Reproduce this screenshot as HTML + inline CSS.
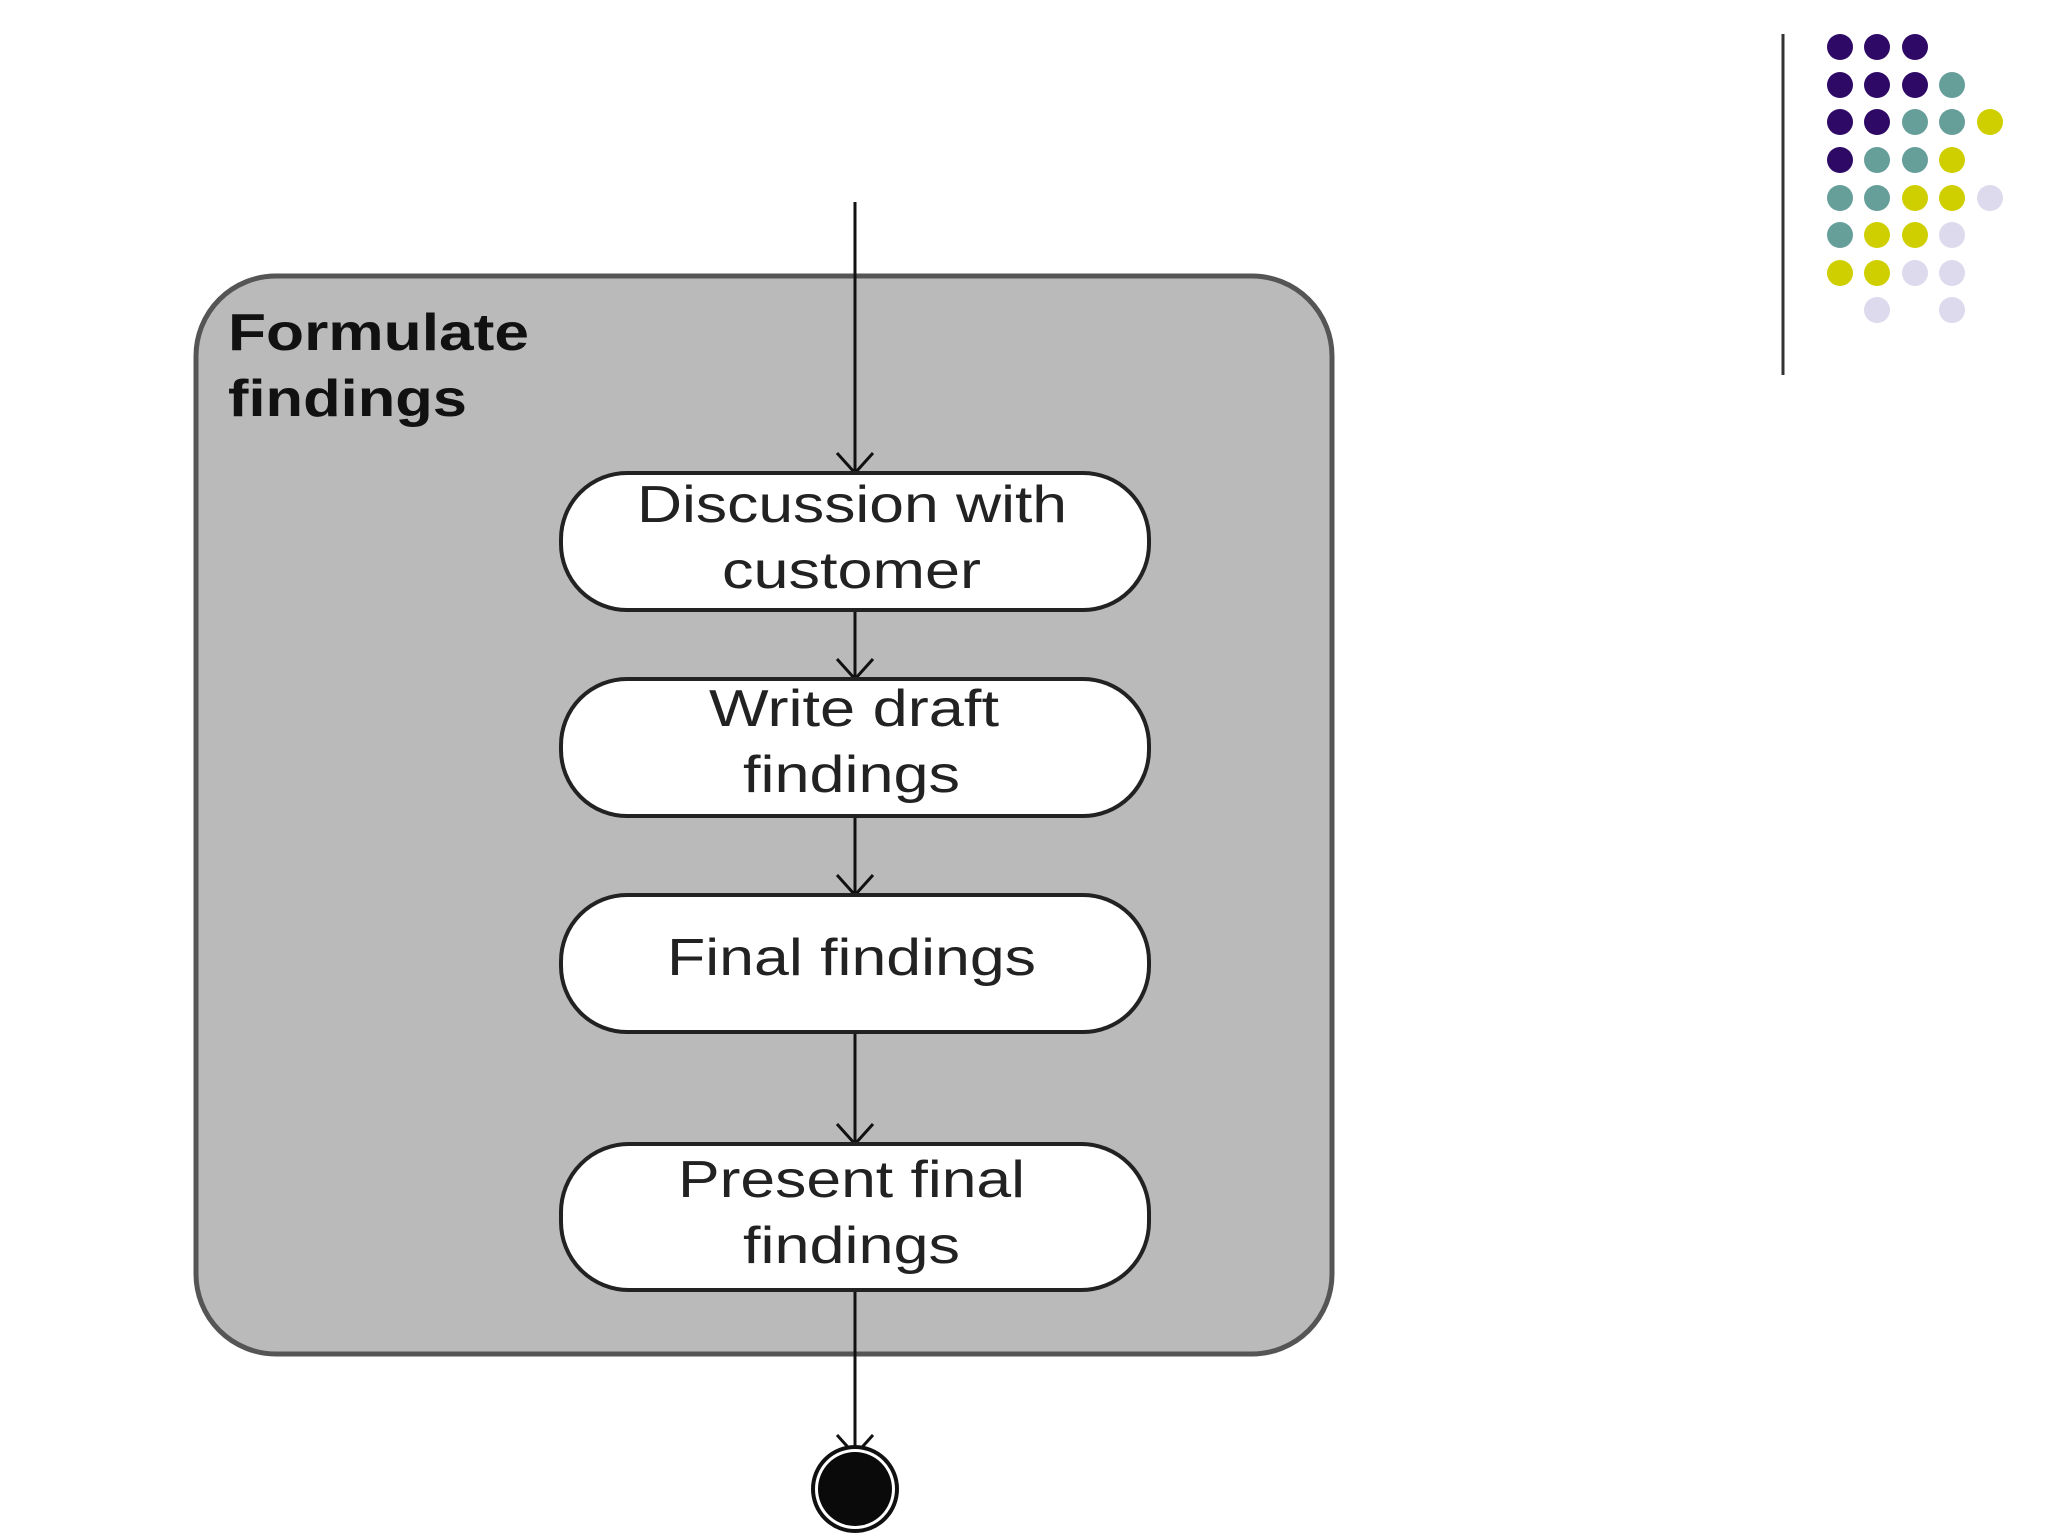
<!DOCTYPE html>
<html><head><style>body{margin:0;background:#fff}svg{display:block}</style></head>
<body>
<svg width="2048" height="1536" viewBox="0 0 2048 1536" xmlns="http://www.w3.org/2000/svg">
<line x1="1783" y1="34" x2="1783" y2="375" stroke="#333" stroke-width="3"/>
<g>
<circle cx="1840" cy="47" r="13" fill="#2e0a66"/><circle cx="1877" cy="47" r="13" fill="#2e0a66"/><circle cx="1915" cy="47" r="13" fill="#2e0a66"/>
<circle cx="1840" cy="85" r="13" fill="#2e0a66"/><circle cx="1877" cy="85" r="13" fill="#2e0a66"/><circle cx="1915" cy="85" r="13" fill="#2e0a66"/><circle cx="1952" cy="85" r="13" fill="#669e9a"/>
<circle cx="1840" cy="122" r="13" fill="#2e0a66"/><circle cx="1877" cy="122" r="13" fill="#2e0a66"/><circle cx="1915" cy="122" r="13" fill="#669e9a"/><circle cx="1952" cy="122" r="13" fill="#669e9a"/><circle cx="1990" cy="122" r="13" fill="#cfcf00"/>
<circle cx="1840" cy="160" r="13" fill="#2e0a66"/><circle cx="1877" cy="160" r="13" fill="#669e9a"/><circle cx="1915" cy="160" r="13" fill="#669e9a"/><circle cx="1952" cy="160" r="13" fill="#cfcf00"/>
<circle cx="1840" cy="198" r="13" fill="#669e9a"/><circle cx="1877" cy="198" r="13" fill="#669e9a"/><circle cx="1915" cy="198" r="13" fill="#cfcf00"/><circle cx="1952" cy="198" r="13" fill="#cfcf00"/><circle cx="1990" cy="198" r="13" fill="#dcdaec"/>
<circle cx="1840" cy="235" r="13" fill="#669e9a"/><circle cx="1877" cy="235" r="13" fill="#cfcf00"/><circle cx="1915" cy="235" r="13" fill="#cfcf00"/><circle cx="1952" cy="235" r="13" fill="#dcdaec"/>
<circle cx="1840" cy="273" r="13" fill="#cfcf00"/><circle cx="1877" cy="273" r="13" fill="#cfcf00"/><circle cx="1915" cy="273" r="13" fill="#dcdaec"/><circle cx="1952" cy="273" r="13" fill="#dcdaec"/>
<circle cx="1877" cy="310" r="13" fill="#dcdaec"/><circle cx="1952" cy="310" r="13" fill="#dcdaec"/>
</g>
<rect x="196" y="276" width="1136" height="1078" rx="80" fill="#bababa" stroke="#555" stroke-width="5"/>
<g font-family="Liberation Sans, sans-serif" font-weight="bold" font-size="52" fill="#111">
<text x="228" y="350" textLength="301" lengthAdjust="spacingAndGlyphs">Formulate</text>
<text x="228" y="416" textLength="239" lengthAdjust="spacingAndGlyphs">findings</text>
</g>
<g stroke="#111" stroke-width="3" fill="none">
<line x1="855" y1="202" x2="855" y2="1470"/>
<polyline points="837,453 855,473 873,453"/>
<polyline points="837,659 855,679 873,659"/>
<polyline points="837,875 855,895 873,875"/>
<polyline points="837,1124 855,1144 873,1124"/>
<polyline points="837,1435 855,1455 873,1435"/>
</g>
<g fill="#fff" stroke="#222" stroke-width="4">
<rect x="561" y="473" width="588" height="137" rx="66"/>
<rect x="561" y="679" width="588" height="137" rx="66"/>
<rect x="561" y="895" width="588" height="137" rx="66"/>
<rect x="561" y="1144" width="588" height="146" rx="68"/>
</g>
<g font-family="Liberation Sans, sans-serif" font-size="52" fill="#222">
<text x="637" y="522" textLength="430" lengthAdjust="spacingAndGlyphs">Discussion with</text>
<text x="722" y="588" textLength="259" lengthAdjust="spacingAndGlyphs">customer</text>
<text x="709" y="726" textLength="290" lengthAdjust="spacingAndGlyphs">Write draft</text>
<text x="743" y="792" textLength="217" lengthAdjust="spacingAndGlyphs">findings</text>
<text x="667" y="975" textLength="369" lengthAdjust="spacingAndGlyphs">Final findings</text>
<text x="678" y="1197" textLength="347" lengthAdjust="spacingAndGlyphs">Present final</text>
<text x="743" y="1263" textLength="217" lengthAdjust="spacingAndGlyphs">findings</text>
</g>
<circle cx="855" cy="1489" r="42" fill="#fff" stroke="#111" stroke-width="4"/>
<circle cx="855" cy="1489" r="37" fill="#0a0a0a"/>
</svg>
</body></html>
